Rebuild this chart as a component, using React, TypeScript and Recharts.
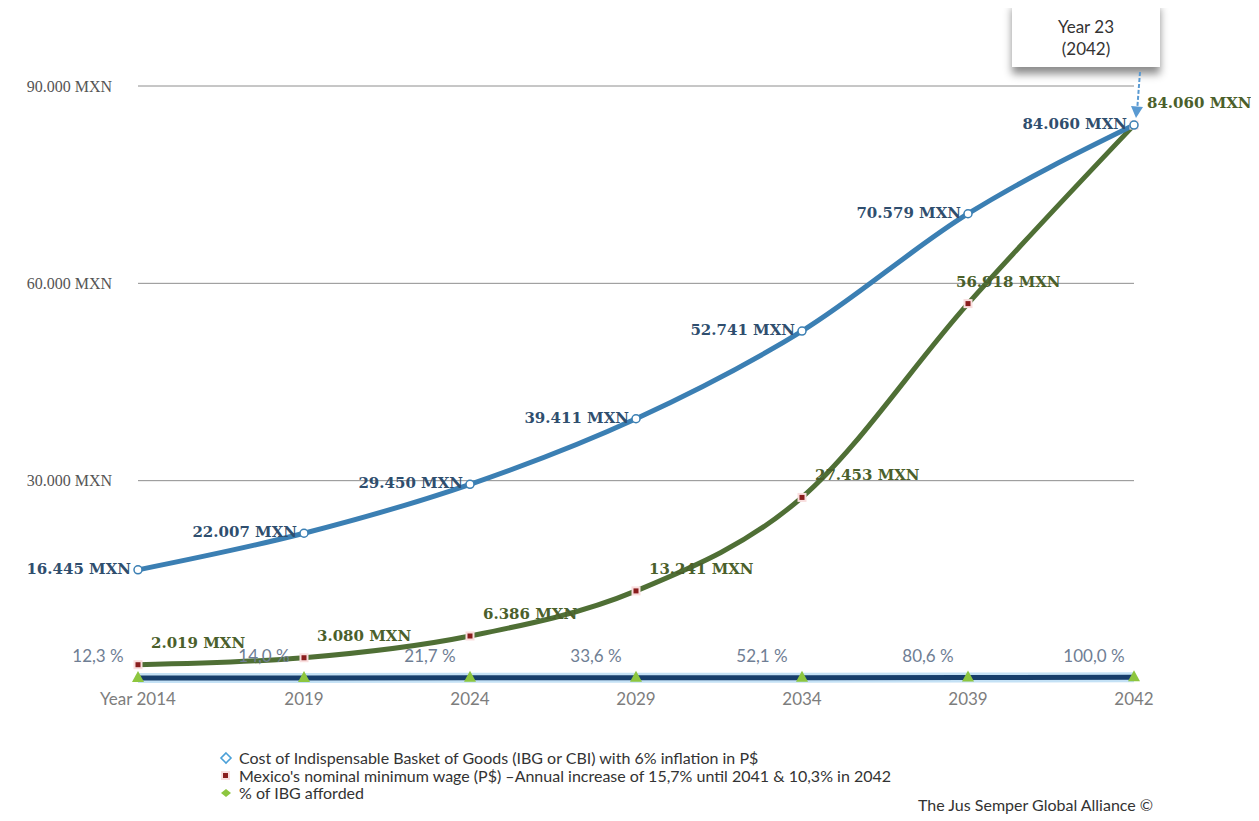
import React from 'react';
import { LineChart, Line, XAxis, YAxis, CartesianGrid, LabelList } from 'recharts';

const years = ['Year 2014', '2019', '2024', '2029', '2034', '2039', '2042'];
const ibgCost = [16445, 22007, 29450, 39411, 52741, 70579, 84060];
const minWage = [2019, 3080, 6386, 13241, 27453, 56918, 84060];
const pctAfforded = [12.3, 14.0, 21.7, 33.6, 52.1, 80.6, 100.0];
const yTicks = [30000, 60000, 90000];

const legendItems = [
  'Cost of Indispensable Basket of Goods (IBG or CBI) with 6% inflation in P$',
  "Mexico's nominal minimum wage (P$) \u2013Annual increase of 15,7% until 2041 & 10,3% in 2042",
  '% of IBG afforded',
];

const data = years.map((year, i) => ({
  year,
  ibg: ibgCost[i],
  wage: minWage[i],
  pct: pctAfforded[i],
}));

const mxn = (v: number) => String(v).replace(/\B(?=(\d{3})+(?!\d))/g, '.') + ' MXN';
const pctFmt = (v: number) => v.toFixed(1).replace('.', ',') + ' %';

const labelFont = '"DejaVu Serif", serif';
const sansFont = 'Lato, "Open Sans", sans-serif';

const IbgLabel = (props: any) => {
  const { x, y, value } = props;
  return (
    <text x={x - 7} y={y} textAnchor="end" dominantBaseline="middle"
      fontFamily={labelFont} fontWeight="bold" fontSize={15} fill="#2f4e6e">
      {mxn(value)}
    </text>
  );
};

const WageLabel = (props: any) => {
  const { x, y, value, index } = props;
  const dx = index === 5 ? -12 : 13;
  return (
    <text x={x + dx} y={y - 21} textAnchor="start" dominantBaseline="middle"
      fontFamily={labelFont} fontWeight="bold" fontSize={15} fill="#4b5f2b">
      {mxn(value)}
    </text>
  );
};

const PctLabel = (props: any) => {
  const { x, y, value } = props;
  return (
    <text x={x - 40} y={y - 20} textAnchor="middle" dominantBaseline="middle"
      fontFamily={sansFont} fontSize={17} fill="#6f7e94">
      {pctFmt(value)}
    </text>
  );
};

const squareDot = (p: any) => (
  <g key={'w' + p.index}>
    <rect x={p.cx - 4.5} y={p.cy - 4.5} width={9} height={9} fill="#f9dede" />
    <rect x={p.cx - 2.5} y={p.cy - 2.5} width={5} height={5} fill="#8a1d1d" />
  </g>
);

const triDot = (p: any) => (
  <polygon key={'t' + p.index}
    points={`${p.cx},${p.cy - 7} ${p.cx + 6},${p.cy + 4} ${p.cx - 6},${p.cy + 4}`}
    fill="#8dc63f" />
);

export default function App() {
  return (
    <div style={{ position: 'relative', width: 1259, height: 821, margin: '-8px 0 0 -8px', background: '#fff' }}>
      <LineChart width={1259} height={821} data={data}
        margin={{ top: 86, right: 125, left: 0, bottom: 113 }}>
        <CartesianGrid vertical={false} stroke="#8e8e8e" />
        <XAxis dataKey="year" axisLine={false} tickLine={false} height={30} tickMargin={9}
          tick={{ fill: '#7d7d7d', fontSize: 17, fontFamily: sansFont }} />
        <YAxis domain={[0, 90000]} ticks={yTicks} width={138} axisLine={false} tickLine={false}
          tickMargin={20} tickFormatter={mxn}
          tick={{ fill: '#555', fontSize: 16, fontFamily: '"Liberation Serif", serif' }} />
        <Line dataKey="pct" stroke="#c4e1f5" strokeWidth={10} dot={false} isAnimationActive={false} />
        <Line dataKey="pct" stroke="#173e6b" strokeWidth={5} dot={triDot} isAnimationActive={false}>
          <LabelList dataKey="pct" content={PctLabel} />
        </Line>
        <Line type="monotone" dataKey="wage" stroke="#4f6f35" strokeWidth={5} dot={squareDot}
          isAnimationActive={false}>
          <LabelList dataKey="wage" content={WageLabel} />
        </Line>
        <Line type="monotone" dataKey="ibg" stroke="#3b7fb3" strokeWidth={5}
          dot={{ r: 4, fill: '#fff', stroke: '#3b7fb3', strokeWidth: 1.5 }} isAnimationActive={false}>
          <LabelList dataKey="ibg" content={IbgLabel} />
        </Line>
      </LineChart>

      {/* callout */}
      <div style={{
        position: 'absolute', left: 1012, top: 1, width: 148, height: 66, background: '#fff',
        boxShadow: '0 7px 8px rgba(0,0,0,0.45)', fontFamily: sansFont, fontSize: 17, color: '#333',
        textAlign: 'center', lineHeight: '22px', paddingTop: 15, boxSizing: 'border-box',
      }}>
        Year 23<br />(2042)
      </div>
      <svg style={{ position: 'absolute', left: 0, top: 0 }} width={1259} height={821} pointerEvents="none">
        <line x1={1140} y1={72} x2={1137} y2={112} stroke="#5a9ad2" strokeWidth={2} strokeDasharray="4 2" />
        <polygon points="1131,106 1143,107 1136,118" fill="#5a9ad2" />
      </svg>

      {/* legend */}
      <div style={{ position: 'absolute', left: 218, top: 749, fontFamily: sansFont, fontSize: 16, color: '#333', lineHeight: '17.5px' }}>
        {legendItems.map((t, i) => (
          <div key={t} style={{ display: 'flex', alignItems: 'center', height: 17.5 }}>
            <svg width={21} height={14}>
              {i === 0 && <polygon points="8,2 13,7 8,12 3,7" fill="#fff" stroke="#4aa0d8" strokeWidth={1.6} />}
              {i === 1 && <g><rect x={3} y={3} width={9} height={9} fill="#f9dede" /><rect x={5} y={5} width={5} height={5} fill="#8a1d1d" /></g>}
              {i === 2 && <polygon points="3,7 8,3 13,7 8,11" fill="#8dc63f" />}
            </svg>
            <span>{t}</span>
          </div>
        ))}
      </div>
      <div style={{ position: 'absolute', left: 918, top: 795, fontFamily: sansFont, fontSize: 16, color: '#333' }}>
        The Jus Semper Global Alliance ©
      </div>
    </div>
  );
}
